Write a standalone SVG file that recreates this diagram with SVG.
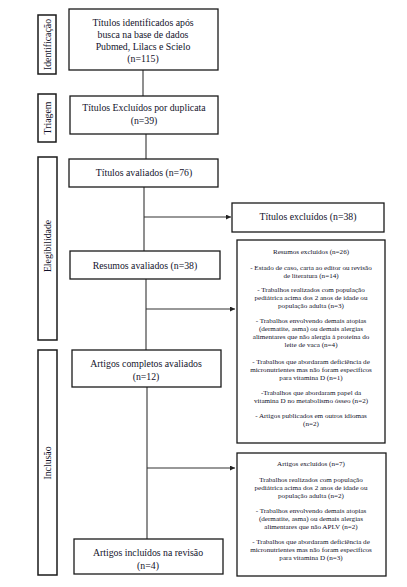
<svg xmlns="http://www.w3.org/2000/svg" width="407" height="587" viewBox="0 0 407 587">
<style>
.bx{fill:#fff;stroke:#1a1a1a;stroke-width:1.3}
.sb{fill:#fff;stroke:#1a1a1a;stroke-width:1.5}
.t{font-family:"Liberation Serif","Times New Roman",serif;fill:#12122a;text-anchor:middle}
.m{font-size:9.8px}
.s{font-size:7.1px}
.l{font-size:9.8px}
.c{stroke:#333;stroke-width:1.1;fill:none}
</style>
<defs>
<marker id="ah" viewBox="0 0 10 10" refX="10" refY="5" markerWidth="5" markerHeight="5" orient="auto" markerUnits="userSpaceOnUse">
<path d="M0,0 L10,5 L0,10 Z" fill="#222"/>
</marker>
</defs>
<rect width="407" height="587" fill="#fff"/>
<g id="connectors">
<line class="c" x1="143" y1="70" x2="143" y2="96"/>
<line class="c" x1="146" y1="134" x2="146" y2="159"/>
<line class="c" x1="144" y1="187" x2="144" y2="251"/>
<line class="c" x1="144" y1="217" x2="231" y2="217" marker-end="url(#ah)"/>
<line class="c" x1="146" y1="279" x2="146" y2="350"/>
<line class="c" x1="146" y1="309" x2="235" y2="309" marker-end="url(#ah)"/>
<line class="c" x1="147" y1="387" x2="147" y2="539"/>
<line class="c" x1="147" y1="468" x2="235" y2="468" marker-end="url(#ah)"/>
</g>
<g id="lbl-identificacao">
<rect class="sb" x="38" y="15" width="18" height="59"/>
<text class="t l" transform="translate(50.5,44.5) rotate(-90)">Identificação</text>
</g>
<g id="lbl-triagem">
<rect class="sb" x="38" y="94" width="18" height="48"/>
<text class="t l" transform="translate(50.5,118) rotate(-90)">Triagem</text>
</g>
<g id="lbl-elegibilidade">
<rect class="sb" x="38" y="157" width="19" height="183"/>
<text class="t l" transform="translate(51,246) rotate(-90)">Elegibilidade</text>
</g>
<g id="lbl-inclusao">
<rect class="sb" x="38" y="350" width="19" height="225"/>
<text class="t l" transform="translate(51,463) rotate(-90)">Inclusão</text>
</g>
<g id="b1">
<rect class="bx" x="69" y="9" width="149" height="61"/>
<text class="t m" x="143" y="26">Títulos identificados após</text>
<text class="t m" x="143" y="38">busca na base de dados</text>
<text class="t m" x="143" y="50">Pubmed, Lilacs e Scielo</text>
<text class="t m" x="143" y="62">(n=115)</text>
</g>
<g id="b2">
<rect class="bx" x="70" y="96" width="148" height="38"/>
<text class="t m" x="144" y="111">Títulos Excluídos por duplicata</text>
<text class="t m" x="144" y="124">(n=39)</text>
</g>
<g id="b3">
<rect class="bx" x="69" y="159" width="149" height="28"/>
<text class="t m" x="144" y="176">Títulos avaliados (n=76)</text>
</g>
<g id="b4">
<rect class="bx" x="70" y="251" width="150" height="28"/>
<text class="t m" x="145" y="268.5">Resumos avaliados (n=38)</text>
</g>
<g id="b5">
<rect class="bx" x="72" y="350" width="149" height="37"/>
<text class="t m" x="146" y="367">Artigos completos avaliados</text>
<text class="t m" x="146" y="380">(n=12)</text>
</g>
<g id="b6">
<rect class="bx" x="74" y="539" width="149" height="35"/>
<text class="t m" x="148" y="556">Artigos incluídos na revisão</text>
<text class="t m" x="148" y="569">(n=4)</text>
</g>
<g id="e1">
<rect class="bx" x="232" y="203" width="152" height="29"/>
<text class="t m" x="308" y="220">Títulos excluídos (n=38)</text>
</g>
<g id="e2">
<rect class="bx" x="237" y="240" width="148" height="203"/>
<g class="t s">
<text x="311" y="254">Resumos excluídos (n=26)</text>
<text x="311" y="270">- Estado de caso, carta ao editor ou revisão</text>
<text x="311" y="278">de literatura (n=14)</text>
<text x="311" y="292">- Trabalhos realizados com população</text>
<text x="311" y="300">pediátrica acima dos 2 anos de idade ou</text>
<text x="311" y="308">população adulta (n=3)</text>
<text x="311" y="323">- Trabalhos envolvendo demais atopias</text>
<text x="311" y="331">(dermatite, asma) ou demais alergias</text>
<text x="311" y="339">alimentares que não alergia à proteína do</text>
<text x="311" y="347">leite de vaca (n=4)</text>
<text x="311" y="364">- Trabalhos que abordaram deficiência de</text>
<text x="311" y="372">micronutrientes mas não foram específicos</text>
<text x="311" y="380">para vitamina D (n=1)</text>
<text x="311" y="395">-Trabalhos que abordaram papel da</text>
<text x="311" y="403">vitamina D no metabolismo ósseo (n=2)</text>
<text x="311" y="418">- Artigos publicados em outros idiomas</text>
<text x="311" y="426">(n=2)</text>
</g>
</g>
<g id="e3">
<rect class="bx" x="237" y="453" width="149" height="123"/>
<g class="t s">
<text x="311" y="466">Artigos excluídos (n=7)</text>
<text x="311" y="482">Trabalhos realizados com população</text>
<text x="311" y="490">pediátrica acima dos 2 anos de idade ou</text>
<text x="311" y="498">população adulta (n=2)</text>
<text x="311" y="513">- Trabalhos envolvendo demais atopias</text>
<text x="311" y="521">(dermatite, asma) ou demais alergias</text>
<text x="311" y="529">alimentares que não APLV (n=2)</text>
<text x="311" y="544">- Trabalhos que abordaram deficiência de</text>
<text x="311" y="552">micronutrientes mas não foram específicos</text>
<text x="311" y="560">para vitamina D (n=3)</text>
</g>
</g>
</svg>
